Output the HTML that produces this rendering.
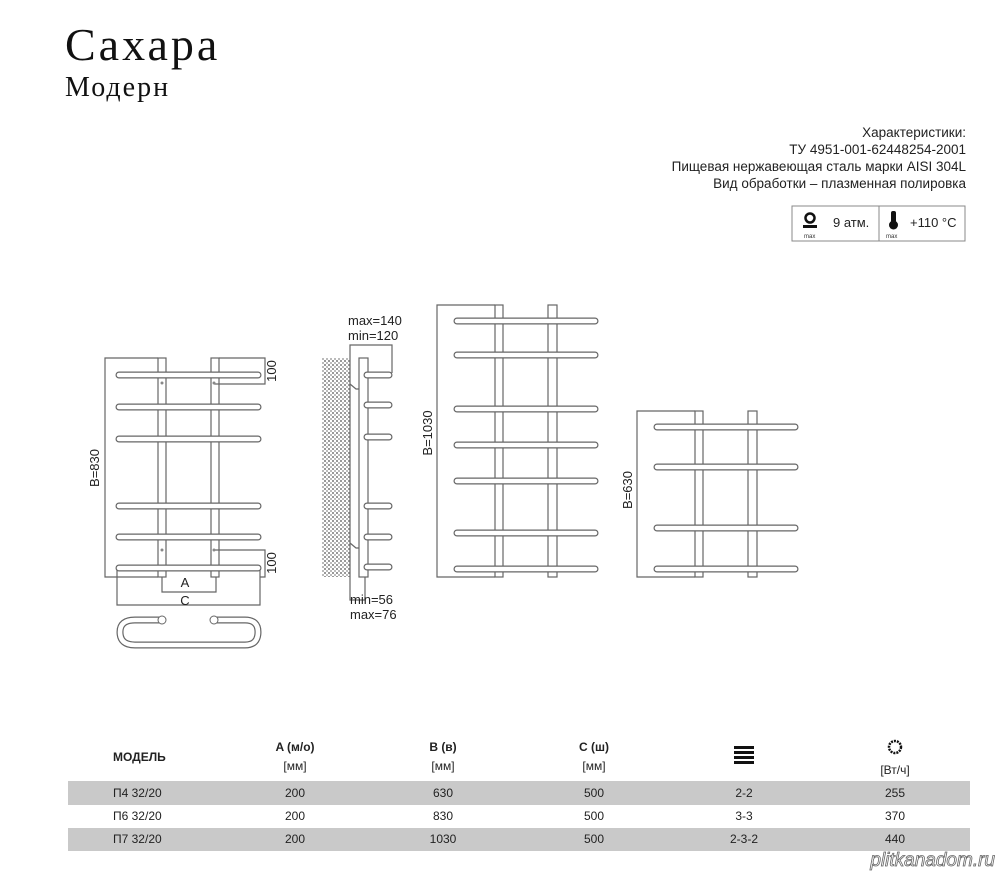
<!DOCTYPE html>
<html><head><meta charset="utf-8"><style>
html,body{margin:0;padding:0;background:#fff;}
body{width:1000px;height:874px;overflow:hidden;position:relative;}
svg{position:absolute;left:0;top:0;}
.s{font-family:"Liberation Sans","DejaVu Sans",sans-serif;}
</style></head><body>
<svg width="1000" height="874" viewBox="0 0 1000 874" xmlns="http://www.w3.org/2000/svg">
<defs>
<pattern id="hatch" width="4" height="4" patternUnits="userSpaceOnUse">
<rect width="4" height="4" fill="#fff"/><rect width="2" height="2" fill="#999"/><rect x="2" y="2" width="2" height="2" fill="#bbb"/>
</pattern>
</defs>
<!-- titles -->
<text x="65" y="60" font-family="Liberation Serif,serif" font-size="46" letter-spacing="3" fill="#111">Сахара</text>
<text x="65" y="96" font-family="Liberation Serif,serif" font-size="28" letter-spacing="2" fill="#111">Модерн</text>
<g class="s" font-size="13.5" fill="#222" text-anchor="end">
<text x="966" y="137">Характеристики:</text>
<text x="966" y="154">ТУ 4951-001-62448254-2001</text>
<text x="966" y="171">Пищевая нержавеющая сталь марки AISI 304L</text>
<text x="966" y="188">Вид обработки – плазменная полировка</text>
</g>
<rect x="792" y="206" width="173" height="35" fill="none" stroke="#888"/>
<line x1="879" y1="206" x2="879" y2="241" stroke="#888"/>
<circle cx="810" cy="218" r="4.5" fill="none" stroke="#111" stroke-width="2.5"/>
<rect x="803" y="225" width="14" height="3" fill="#111"/>
<text x="804" y="238" font-size="6" class="s" fill="#333">max</text>
<text x="833" y="227" font-size="13" class="s" fill="#222">9 атм.</text>
<rect x="891" y="211" width="5" height="12" rx="2" fill="#111"/><circle cx="893.5" cy="225" r="4.5" fill="#111"/>
<text x="886" y="238" font-size="6" class="s" fill="#333">max</text>
<text x="910" y="227" font-size="13" class="s" fill="#222">+110 °C</text>

<g fill="none" stroke="#666" stroke-width="1.2">
<polyline points="158,358 105,358 105,577 158,577"/>
<rect x="158" y="358" width="8" height="219" fill="#fff"/>
<rect x="211" y="358" width="8" height="219" fill="#fff"/>
<polyline points="219,358 265,358 265,384 214,384"/>
<polyline points="214,550 265,550 265,577 260,577"/>
<polyline points="162,577 162,592 216,592 216,577"/>
<polyline points="117,568 117,605 260,605 260,568"/>
<rect x="322" y="358" width="28" height="219" fill="url(#hatch)" stroke="none"/>
<polyline points="350,577 350,345 392,345 392,373"/>
<polyline points="350,577 350,600 365,600 365,577"/>
<rect x="359" y="358" width="9" height="219" fill="#fff"/>
<polyline points="350,384 356,389 359,389"/>
<polyline points="350,543 356,548 359,548"/>
<polyline points="495,305 437,305 437,577 495,577"/>
<rect x="495" y="305" width="8" height="272" fill="#fff"/>
<rect x="548" y="305" width="9" height="272" fill="#fff"/>
<polyline points="695,411 637,411 637,577 695,577"/>
<rect x="695" y="411" width="8" height="166" fill="#fff"/>
<rect x="748" y="411" width="9" height="166" fill="#fff"/>
</g>
<g stroke-linecap="round" fill="none">
<g stroke="#666" stroke-width="7">
<path d="M119 375H258M119 407H258M119 439H258M119 506H258M119 537H258M119 568H258"/>
<path d="M367 375H389M367 405H389M367 437H389M367 506H389M367 537H389M367 567H389"/>
<path d="M457 321H595M457 355H595M457 409H595M457 445H595M457 481H595M457 533H595M457 569H595"/>
<path d="M657 427H795M657 467H795M657 528H795M657 569H795"/>
<path d="M162 620H135Q120 620 120 632Q120 645 135 645H245Q258 645 258 632Q258 620 245 620H214"/>
</g>
<g stroke="#fff" stroke-width="4.6">
<path d="M119 375H258M119 407H258M119 439H258M119 506H258M119 537H258M119 568H258"/>
<path d="M367 375H389M367 405H389M367 437H389M367 506H389M367 537H389M367 567H389"/>
<path d="M457 321H595M457 355H595M457 409H595M457 445H595M457 481H595M457 533H595M457 569H595"/>
<path d="M657 427H795M657 467H795M657 528H795M657 569H795"/>
<path d="M162 620H135Q120 620 120 632Q120 645 135 645H245Q258 645 258 632Q258 620 245 620H214"/>
</g>
</g>
<circle cx="162" cy="620" r="4" fill="#fff" stroke="#666"/>
<circle cx="214" cy="620" r="4" fill="#fff" stroke="#666"/>
<g fill="#888"><circle cx="162" cy="383" r="1.5"/><circle cx="214" cy="383" r="1.5"/><circle cx="162" cy="550" r="1.5"/><circle cx="214" cy="550" r="1.5"/></g>
<g class="s" font-size="13" fill="#222">
<text transform="translate(276,371) rotate(-90)" text-anchor="middle">100</text>
<text transform="translate(276,563) rotate(-90)" text-anchor="middle">100</text>
<text transform="translate(99,468) rotate(-90)" text-anchor="middle">B=830</text>
<text transform="translate(432,433) rotate(-90)" text-anchor="middle">B=1030</text>
<text transform="translate(632,490) rotate(-90)" text-anchor="middle">B=630</text>
<text x="185" y="587" text-anchor="middle">A</text>
<text x="185" y="605" text-anchor="middle">C</text>
<text x="348" y="325">max=140</text>
<text x="348" y="340">min=120</text>
<text x="350" y="604">min=56</text>
<text x="350" y="619">max=76</text>
</g>
<rect x="68" y="781" width="902" height="24" fill="#c9c9c9"/>
<rect x="68" y="828" width="902" height="23" fill="#c9c9c9"/>
<g class="s" font-size="12" fill="#222" text-anchor="middle">
<text x="113" y="761" font-weight="bold" text-anchor="start">МОДЕЛЬ</text>
<text x="295" y="751" font-weight="bold">A (м/о)</text><text x="295" y="770">[мм]</text>
<text x="443" y="751" font-weight="bold">B (в)</text><text x="443" y="770">[мм]</text>
<text x="594" y="751" font-weight="bold">C (ш)</text><text x="594" y="770">[мм]</text>
<text x="895" y="774">[Вт/ч]</text>
<text x="113" y="797" text-anchor="start">П4 32/20</text><text x="295" y="797">200</text><text x="443" y="797">630</text><text x="594" y="797">500</text><text x="744" y="797">2-2</text><text x="895" y="797">255</text>
<text x="113" y="820" text-anchor="start">П6 32/20</text><text x="295" y="820">200</text><text x="443" y="820">830</text><text x="594" y="820">500</text><text x="744" y="820">3-3</text><text x="895" y="820">370</text>
<text x="113" y="843" text-anchor="start">П7 32/20</text><text x="295" y="843">200</text><text x="443" y="843">1030</text><text x="594" y="843">500</text><text x="744" y="843">2-3-2</text><text x="895" y="843">440</text>
</g>
<g fill="#111"><rect x="734" y="746" width="20" height="3"/><rect x="734" y="751" width="20" height="3"/><rect x="734" y="756" width="20" height="3"/><rect x="734" y="761" width="20" height="3"/></g>
<circle cx="895" cy="747" r="6" fill="none" stroke="#111" stroke-width="2.5" stroke-dasharray="2 1"/>
<text x="995" y="866" class="s" font-size="19" fill="#fff" stroke="#666" stroke-width="0.8" text-anchor="end" font-style="italic">plitkanadom.ru</text>
</svg>
</body></html>
